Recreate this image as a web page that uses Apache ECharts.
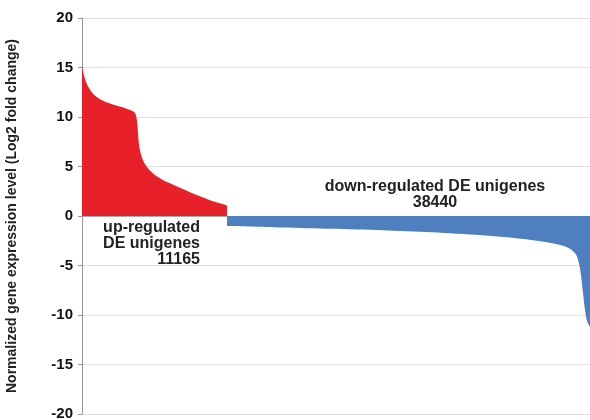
<!DOCTYPE html>
<html>
<head>
<meta charset="utf-8">
<script src="https://cdn.jsdelivr.net/npm/echarts@6/dist/echarts.min.js"></script>
<style>
html, body { margin: 0; padding: 0; background: #fff; }
#chart { width: 590px; height: 420px; }
</style>
</head>
<body>
<div id="chart"></div>
<script>
// ranked unigenes (rank position along x) and their log2 fold change
var upRank = [0, 2, 5, 9, 15, 22, 30, 40, 48, 53, 55, 56, 57, 59, 62, 67, 75, 88, 108, 128, 144, 145];
var upFold = [15.2, 14.2, 13.3, 12.6, 12.0, 11.6, 11.3, 11.0, 10.7, 10.4, 9.6, 8.4, 7.2, 6.2, 5.4, 4.7, 4.0, 3.3, 2.4, 1.6, 1.1, 1.0];
var downRank = [145, 200, 250, 300, 350, 400, 430, 455, 475, 488, 494, 497, 499, 501, 503, 505, 508];
var downFold = [-1.0, -1.15, -1.3, -1.45, -1.65, -1.95, -2.2, -2.5, -2.85, -3.3, -3.9, -4.8, -6.0, -7.8, -9.5, -10.6, -11.2];
var yTicks = [-20, -15, -10, -5, 0, 5, 10, 15, 20];

function pairs(xs, ys) {
  return xs.map(function (x, i) { return [x, ys[i]]; });
}

var chart = echarts.init(document.getElementById('chart'));

chart.setOption({
  animation: false,
  grid: { left: 82, right: 0, top: 18, bottom: 6, containLabel: false, outerBoundsMode: 'none' },
  xAxis: {
    type: 'value',
    min: 0,
    max: 508,
    axisLine: { onZero: true, lineStyle: { color: '#aaa', width: 1 } },
    axisTick: { show: false },
    axisLabel: { show: false },
    splitLine: { show: false }
  },
  yAxis: {
    type: 'value',
    min: yTicks[0],
    max: yTicks[yTicks.length - 1],
    interval: 5,
    name: 'Normalized gene expression level (Log2 fold change)',
    nameLocation: 'middle',
    nameGap: 63,
    nameTextStyle: { fontFamily: 'Liberation Sans', fontWeight: 'bold', fontSize: 14, color: '#222' },
    axisLine: { show: true, lineStyle: { color: '#999' } },
    axisTick: { show: true, length: 4, lineStyle: { color: '#999' } },
    axisLabel: { fontFamily: 'Liberation Sans', fontWeight: 'bold', fontSize: 15, color: '#111', margin: 9 },
    splitLine: { lineStyle: { color: '#e0e0e0' } }
  },
  series: [
    {
      type: 'line',
      data: pairs(upRank, upFold),
      smooth: 0.3,
      symbol: 'none',
      lineStyle: { width: 0 },
      areaStyle: { color: '#e8202a', opacity: 1 }
    },
    {
      type: 'line',
      data: pairs(downRank, downFold),
      smooth: 0.3,
      symbol: 'none',
      lineStyle: { width: 0 },
      areaStyle: { color: '#4f7fbe', opacity: 1 }
    }
  ],
  graphic: [
    {
      type: 'text',
      x: 200,
      y: 220,
      style: {
        text: 'up-regulated\nDE unigenes\n11165',
        font: 'bold 16px "Liberation Sans"',
        fill: '#222',
        textAlign: 'right',
        lineHeight: 16
      }
    },
    {
      type: 'text',
      x: 435,
      y: 179,
      style: {
        text: 'down-regulated DE unigenes\n38440',
        font: 'bold 16px "Liberation Sans"',
        fill: '#222',
        textAlign: 'center',
        lineHeight: 16
      }
    }
  ]
});
</script>
</body>
</html>
